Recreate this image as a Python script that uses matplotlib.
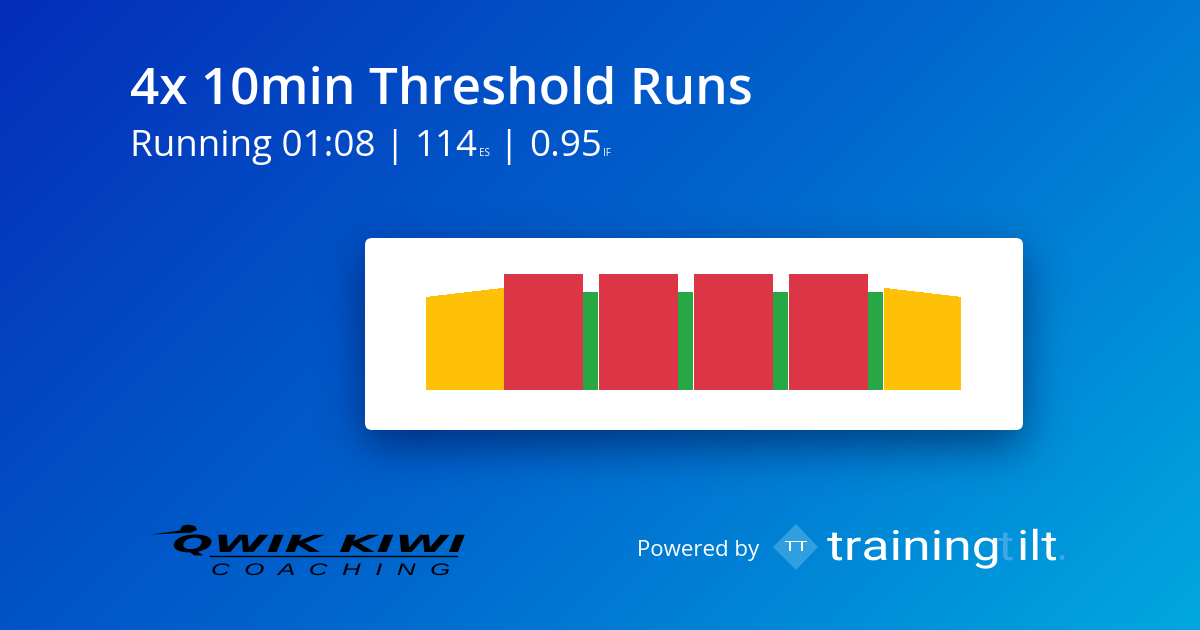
import numpy as np
import matplotlib
matplotlib.use('Agg')
import matplotlib.pyplot as plt
from matplotlib.patches import FancyBboxPatch, Polygon
from matplotlib.patheffects import AbstractPathEffect
from matplotlib.transforms import Affine2D

# workout steps, minutes and % of threshold
warmup_min = [0.5, 1.08, 1.08, 1.08, 1.08, 1.08, 1.08, 1.08, 1.08, 0.76]
warmup_pct = [80.2, 81, 81.9, 82.8, 83.6, 84.5, 85.3, 86.2, 87, 87.9]
cooldown_min = [0.76, 1.08, 1.08, 1.08, 1.08, 1.08, 1.08, 1.08, 1.08, 0.4]
cooldown_pct = [87.9, 87, 86.2, 85.3, 84.5, 83.6, 82.8, 81.9, 81, 80.2]
interval_min = [10.06, 2, 10.06, 2, 10.06, 2, 10.06, 2]
interval_pct = [100, 84.5, 100, 84.5, 100, 84.5, 100, 84.5]
interval_col = ['#dc3545', '#28a745', '#dc3545', '#28a745', '#dc3545', '#28a745', '#dc3545', '#28a745']

W, H = 1200, 630
plt.rcParams['font.family'] = ['Open Sans', 'DejaVu Sans']


class HStretch(AbstractPathEffect):
    # widens a text around x0 (pixels), the logos are extended lettering
    def __init__(self, x0, sx):
        super().__init__()
        self.x0 = x0
        self.sx = sx

    def draw_path(self, renderer, gc, tpath, affine, rgbFace=None):
        stretch = Affine2D().translate(-self.x0, 0).scale(self.sx, 1).translate(self.x0, 0)
        renderer.draw_path(gc, tpath, affine + stretch, rgbFace)


fig = plt.figure(figsize=(W / 100, H / 100), dpi=100)

# ***** background + shadow *****
bg = fig.add_axes([0, 0, 1, 1])
bg.set_xlim(0, W)
bg.set_ylim(H, 0)
bg.axis('off')

yy, xx = np.mgrid[0:H, 0:W]
t = (xx * 1.0 + yy * 1.0) / (W + H)
stops = np.array([[5, 45, 185], [0, 100, 205], [0, 168, 224]]) / 255
grad = np.dstack([np.interp(t, [0, 0.5, 1], stops[:, i]) for i in range(3)])
bg.imshow(grad, extent=(0, W, H, 0), aspect='auto', zorder=0, interpolation='bilinear')

mask = np.zeros((H, W))
mask[254:446, 365:1023] = 1
kernel = np.exp(-0.5 * (np.arange(-60, 61) / 22.0) ** 2)
kernel /= kernel.sum()
for axis in (0, 1):
    mask = np.apply_along_axis(lambda r: np.convolve(r, kernel, mode='same'), axis, mask)
shadow = np.zeros((H, W, 4))
shadow[..., 2] = 0.2
shadow[..., 3] = mask * 0.52
bg.imshow(shadow, extent=(0, W, H, 0), aspect='auto', zorder=1)

card = FancyBboxPatch((371, 244), 646, 180, boxstyle='round,pad=6,rounding_size=7',
                      fc='white', ec='none', zorder=2)
bg.add_patch(card)

# ***** texts *****
bg.text(130, 104, '4x 10min Threshold Runs', color='white', fontsize=36.9, fontweight=600,
        ha='left', va='baseline', zorder=3)
bg.text(130, 156, 'Running 01:08', color='white', fontsize=26.5, ha='left', va='baseline', zorder=3)
bg.text(384, 156, '|', color='white', fontsize=26.5, ha='left', va='baseline', zorder=3)
bg.text(415, 156, '114', color='white', fontsize=26.5, ha='left', va='baseline', zorder=3)
bg.text(479, 156, 'ES', color='white', fontsize=7, ha='left', va='baseline', zorder=3)
bg.text(498, 156, '|', color='white', fontsize=26.5, ha='left', va='baseline', zorder=3)
bg.text(529, 156, '0.95', color='white', fontsize=26.5, ha='left', va='baseline', zorder=3)
bg.text(603, 156, 'IF', color='white', fontsize=7, ha='left', va='baseline', zorder=3)

# ***** Qwik Kiwi logo *****
bg.text(172, 552, 'QWIK KIWI', color='black', fontsize=17, fontweight='bold', style='italic',
        family='DejaVu Sans', ha='left', va='baseline', zorder=3,
        path_effects=[HStretch(172, 2.05)])
bg.plot([210, 457], [556, 556], color='black', lw=1.0, zorder=3)
bg.text(211, 575, 'C  O  A  C  H  I  N  G', color='black', fontsize=12, style='italic',
        family='Liberation Sans', ha='left', va='baseline', zorder=3,
        path_effects=[HStretch(211, 1.56)])
bg.add_patch(Polygon([[151, 534.5], [180, 530.5], [182, 526], [188, 524.5], [195, 526], [197, 530],
                      [190, 533], [181, 533]], fc='black', ec='none', zorder=3))

# ***** Powered by / trainingtilt *****
bg.text(637, 556, 'Powered by', color='white', fontsize=16, ha='left', va='baseline', zorder=3)
bg.add_patch(Polygon([[773, 547], [796, 524], [818, 547], [796, 570]], fc='#2f9fdf', ec='none', zorder=3))
bg.text(796, 547, 'TT', color='white', fontsize=10, ha='center', va='center', zorder=4,
        path_effects=[HStretch(796, 1.5)])
tt_font = dict(fontsize=30, fontweight=400, family='Roboto', ha='left', va='baseline', zorder=3)
bg.text(827, 560, 'training', color='white', path_effects=[HStretch(827, 1.24)], **tt_font)
bg.text(998, 560, 't', color='#3ea8e4', path_effects=[HStretch(998, 1.2)], **tt_font)
bg.text(1017, 560, 'ilt', color='white', path_effects=[HStretch(1017, 1.2)], **tt_font)
bg.text(1056, 560, '.', color='#3ea8e4', **tt_font)

# ***** chart *****
ax = fig.add_axes([426 / W, 1 - 390 / H, (961 - 426) / W, 116 / H], zorder=5)
ax.patch.set_alpha(0)
ax.set_xlim(0, sum(warmup_min) + sum(interval_min) + sum(cooldown_min))
ax.set_ylim(0, 100)
ax.axis('off')

pos = 0
for dur, pct in zip(warmup_min, warmup_pct):
    ax.bar(pos, pct, width=dur, align='edge', color='#ffc107', lw=0)
    pos += dur
for dur, pct, col in zip(interval_min, interval_pct, interval_col):
    # thin white gap after each green block only
    gap = 0.12 if col == '#28a745' else 0
    ax.bar(pos, pct, width=dur - gap, align='edge', color=col, lw=0)
    pos += dur
for dur, pct in zip(cooldown_min, cooldown_pct):
    ax.bar(pos, pct, width=dur, align='edge', color='#ffc107', lw=0)
    pos += dur

fig.savefig('out.png', dpi=100)
